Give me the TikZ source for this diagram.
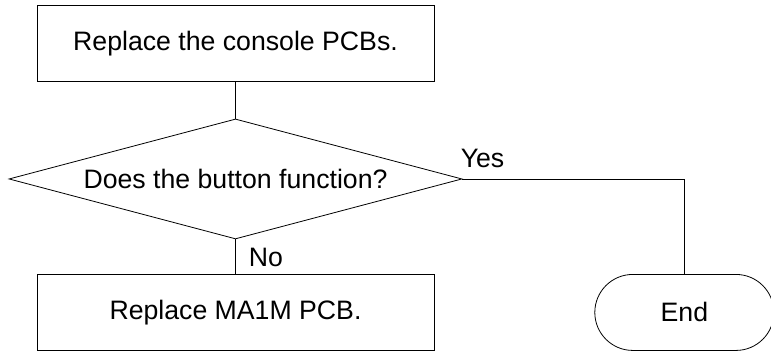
\documentclass[tikz,border=0pt]{standalone}
\usepackage{fontspec}
\setmainfont{Liberation Sans}
\usetikzlibrary{positioning,shapes.geometric,shapes.misc}

\begin{document}
\begin{tikzpicture}
        [x = 0.75pt, y = -0.75pt,
            node distance = 27pt,
            line width = 0.6pt,
            every node/.style = {font=\fontsize{20}{24}\selectfont},
            act node/.style = {rectangle, draw, minimum width=297.75pt, minimum height=56.5pt},
            test node/.style = {diamond, draw, aspect=3.775, inner sep=0pt, minimum width=339.75pt, minimum height=90pt},
            stop node/.style = {rounded rectangle, draw, minimum width=141pt, minimum height=57pt},
            tag/.style = {anchor=base west, inner sep=0pt}]

        \useasboundingbox (0,0) rectangle (771,353);

        \node[act node] (swap) at (235.5,43.5) {Replace the console PCBs.};
        \node[test node] (check) [below=27.75pt of swap] {Does the button function?};
        \node[act node] (fix) [below=26.25pt of check] {Replace MA1M PCB.};
        \node[stop node] (done) [right=120pt of fix] {End};

        \draw (swap) -- (check);
        \draw (check) -- node[tag, pos=1, xshift=9.75pt, yshift=6pt] {No} (fix);
        \draw (check.east) -| node[tag, pos=0, xshift=-1.5pt, yshift=8.25pt] {Yes} (done);
    \end{tikzpicture}
\end{document}
